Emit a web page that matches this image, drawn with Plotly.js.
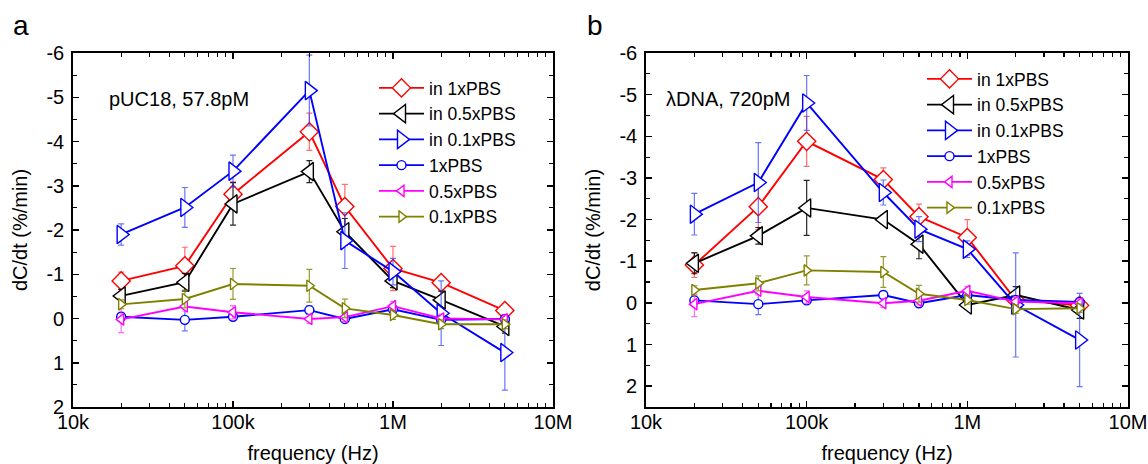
<!DOCTYPE html>
<html>
<head>
<meta charset="utf-8">
<script src="https://cdn.plot.ly/plotly-3.0.1.min.js"></script>
<style>html,body{margin:0;padding:0;background:#fff;}#chart{width:1148px;height:464px;}</style>
</head>
<body>
<div id="chart"></div>
<script>
// frequencies (Hz)
const freq = [2e4, 5e4, 1e5, 3e5, 5e5, 1e6, 2e6, 5e6];

// series names
const names = ["in 1xPBS", "in 0.5xPBS", "in 0.1xPBS", "1xPBS", "0.5xPBS", "0.1xPBS"];

// panel a: pUC18, 57.8pM  (dC/dt, %/min)
const a_in1   = [-0.85, -1.19, -2.81, -4.22, -2.53, -1.13, -0.81, -0.18];
const a_in1e  = [0.20, 0.42, 0.28, 0.42, 0.50, 0.50, 0.10, 0.10];
const a_in05  = [-0.51, -0.82, -2.59, -3.32, -1.96, -0.85, -0.42, 0.18];
const a_in05e = [0.15, 0.20, 0.48, 0.25, 0.30, 0.15, 0.20, 0.15];
const a_in01  = [-1.90, -2.51, -3.33, -5.15, -1.76, -1.06, -0.12, 0.77];
const a_in01e = [0.24, 0.45, 0.36, 0.80, 0.63, 0.30, 0.73, 0.85];
const a_c1    = [-0.04, 0.03, -0.04, -0.19, 0.01, -0.21, 0.03, 0.01];
const a_c1e   = [0.10, 0.25, 0.05, 0.10, 0.05, 0.10, 0.10, 0.10];
const a_c05   = [0.02, -0.27, -0.14, 0.01, -0.03, -0.28, 0.00, 0.02];
const a_c05e  = [0.30, 0.10, 0.15, 0.10, 0.10, 0.10, 0.10, 0.10];
const a_c01   = [-0.32, -0.44, -0.78, -0.74, -0.23, -0.08, 0.13, 0.13];
const a_c01e  = [0.10, 0.20, 0.35, 0.37, 0.21, 0.10, 0.10, 0.10];

// panel b: lambda DNA, 720pM
const b_in1   = [-0.91, -2.31, -3.88, -2.96, -2.07, -1.57, -0.07, 0.06];
const b_in1e  = [0.30, 0.55, 0.60, 0.28, 0.30, 0.43, 0.10, 0.15];
const b_in05  = [-0.95, -1.61, -2.28, -2.00, -1.41, 0.05, -0.19, 0.17];
const b_in05e = [0.25, 0.20, 0.66, 0.10, 0.35, 0.10, 0.20, 0.20];
const b_in01  = [-2.13, -2.89, -4.80, -2.65, -1.77, -1.29, 0.05, 0.89];
const b_in01e = [0.50, 0.96, 0.66, 0.30, 0.30, 0.20, 1.25, 1.12];
const b_c1    = [-0.06, 0.03, -0.06, -0.19, 0.01, -0.19, -0.07, -0.02];
const b_c1e   = [0.10, 0.25, 0.05, 0.10, 0.05, 0.10, 0.10, 0.10];
const b_c05   = [0.03, -0.29, -0.14, 0.01, -0.05, -0.29, -0.03, 0.01];
const b_c05e  = [0.30, 0.10, 0.15, 0.10, 0.10, 0.10, 0.10, 0.10];
const b_c01   = [-0.31, -0.47, -0.78, -0.74, -0.22, -0.07, 0.15, 0.13];
const b_c01e  = [0.10, 0.18, 0.35, 0.37, 0.20, 0.10, 0.10, 0.10];

// tick labels
const xTickVals = [1e4, 1e5, 1e6, 1e7];
const xTickText = ["10k", "100k", "1M", "10M"];
const yTickVals = [-6, -5, -4, -3, -2, -1, 0, 1, 2];
const yTickText = ["-6", "-5", "-4", "-3", "-2", "-1", "0", "1", "2"];

const styles = [
  {color: "#ff0000", err: "rgba(255,60,60,0.75)",  symbol: "diamond",        size: 14},
  {color: "#000000", err: "rgba(0,0,0,0.85)",      symbol: "triangle-left",  size: 16},
  {color: "#0000ff", err: "rgba(40,60,255,0.7)",   symbol: "triangle-right", size: 16},
  {color: "#0000ff", err: "rgba(40,60,255,0.7)",   symbol: "circle",         size: 9},
  {color: "#ff00ff", err: "rgba(255,60,255,0.75)", symbol: "triangle-left",  size: 10},
  {color: "#808000", err: "rgba(128,128,0,0.8)",   symbol: "triangle-right", size: 10}
];

function mk(i, y, e, xa, ya, leg) {
  const s = styles[i];
  return {
    x: freq, y: y, name: names[i], type: "scatter", mode: "lines+markers",
    xaxis: xa, yaxis: ya, legend: leg,
    line: {color: s.color, width: 1.9},
    marker: {symbol: s.symbol, size: s.size, color: "#ffffff", line: {color: s.color, width: 1.4}},
    error_y: {type: "data", array: e, visible: true, color: s.err, thickness: 1.2, width: 3}
  };
}

const aSets = [[a_in1, a_in1e], [a_in05, a_in05e], [a_in01, a_in01e], [a_c1, a_c1e], [a_c05, a_c05e], [a_c01, a_c01e]];
const bSets = [[b_in1, b_in1e], [b_in05, b_in05e], [b_in01, b_in01e], [b_c1, b_c1e], [b_c05, b_c05e], [b_c01, b_c01e]];

const traces = [];
aSets.forEach((d, i) => traces.push(mk(i, d[0], d[1], "x", "y", "legend")));
bSets.forEach((d, i) => traces.push(mk(i, d[0], d[1], "x2", "y2", "legend2")));

const FONT = "Liberation Sans, Arial, sans-serif";

function xax(domain, anchor) {
  return {
    type: "log", domain: domain, range: [4, 7], anchor: anchor,
    tickmode: "array", tickvals: xTickVals, ticktext: xTickText,
    ticks: "inside", ticklen: 6, tickwidth: 1.5, tickcolor: "#000",
    ticklabelstandoff: -4,
    mirror: "ticks", showline: true, linewidth: 1.8, linecolor: "#000",
    showgrid: false, zeroline: false,
    minor: {ticks: "inside", ticklen: 4, tickwidth: 1.2, dtick: "D1", tickcolor: "#000", showgrid: false},
    tickfont: {family: FONT, size: 20, color: "#000"},
    title: {text: "frequency (Hz)", font: {family: FONT, size: 20, color: "#000"}, standoff: 20}
  };
}
function yax(domain, anchor, range) {
  return {
    domain: domain, range: range, anchor: anchor, autorange: false,
    tickmode: "array", tickvals: yTickVals, ticktext: yTickText,
    ticks: "inside", ticklen: 6, tickwidth: 1.5, tickcolor: "#000",
    ticklabelstandoff: 3,
    mirror: "ticks", showline: true, linewidth: 1.8, linecolor: "#000",
    showgrid: false, zeroline: false,
    minor: {ticks: "inside", ticklen: 4, tickwidth: 1.2, dtick: 0.5, tickcolor: "#000", showgrid: false},
    tickfont: {family: FONT, size: 20, color: "#000"},
    title: {text: "dC/dt (%/min)", font: {family: FONT, size: 20, color: "#000"}, standoff: 13}
  };
}

const yDom = [(464 - 407) / 464, (464 - 53) / 464];

const legendBase = {
  font: {family: FONT, size: 17.5, color: "#000"},
  bgcolor: "rgba(0,0,0,0)", borderwidth: 0,
  xanchor: "left", yanchor: "top", itemwidth: 45, tracegroupgap: 0
};

const layout = {
  width: 1148, height: 464,
  margin: {l: 0, r: 0, t: 0, b: 0},
  paper_bgcolor: "#fff", plot_bgcolor: "#fff",
  font: {family: FONT, color: "#000"},
  showlegend: true,
  xaxis: xax([73 / 1148, 553 / 1148], "y"),
  yaxis: yax(yDom, "x", [2, -6]),
  xaxis2: xax([646 / 1148, 1128 / 1148], "y2"),
  yaxis2: yax(yDom, "x2", [2.5, -6]),
  legend: Object.assign({}, legendBase, {x: 374 / 1148, y: (464 - 70) / 464}),
  legend2: Object.assign({}, legendBase, {x: 922 / 1148, y: (464 - 61) / 464}),
  annotations: [
    {text: "a", xref: "paper", yref: "paper", x: 11 / 1148, y: (464 - 26) / 464, xanchor: "left", yanchor: "middle", showarrow: false, font: {family: FONT, size: 28, color: "#000"}},
    {text: "b", xref: "paper", yref: "paper", x: 585 / 1148, y: (464 - 26) / 464, xanchor: "left", yanchor: "middle", showarrow: false, font: {family: FONT, size: 28, color: "#000"}},
    {text: "pUC18, 57.8pM", xref: "paper", yref: "paper", x: 107 / 1148, y: (464 - 99) / 464, xanchor: "left", yanchor: "middle", showarrow: false, font: {family: FONT, size: 20, color: "#000"}},
    {text: "\u03bbDNA, 720pM", xref: "paper", yref: "paper", x: 664 / 1148, y: (464 - 99) / 464, xanchor: "left", yanchor: "middle", showarrow: false, font: {family: FONT, size: 20, color: "#000"}}
  ]
};

Plotly.newPlot("chart", traces, layout, {displayModeBar: false, staticPlot: true});
</script>
</body>
</html>
